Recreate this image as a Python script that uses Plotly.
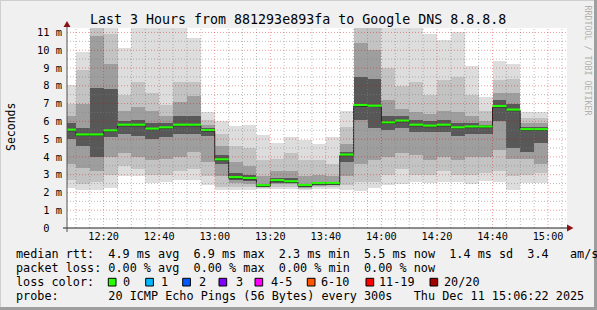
import plotly.graph_objects as go
from datetime import datetime, timedelta

# ---------------- data ----------------
DAY = "2025-12-11"
bar_end = ["12:10", "12:15", "12:20", "12:25", "12:30", "12:35", "12:40", "12:45", "12:50", "12:55",
           "13:00", "13:05", "13:10", "13:15", "13:20", "13:25", "13:30", "13:35", "13:40", "13:45",
           "13:50", "13:55", "14:00", "14:05", "14:10", "14:15", "14:20", "14:25", "14:30", "14:35",
           "14:40", "14:45", "14:50", "14:55", "15:00"]

# RTT distribution of the 20 pings per step (milliseconds)
ping_min = [2.25, 2.15, 2.15, 2.25, 2.95, 2.9, 2.55, 2.6, 2.7, 2.7,
            2.4, 2.15, 2.15, 2.15, 2.2, 2.2, 2.2, 2.15, 2.2, 2.2,
            2.15, 2.1, 2.25, 2.4, 2.5, 2.6, 2.55, 2.6, 2.6, 2.5,
            2.65, 2.6, 2.15, 2.55, 2.55]
ping_p10 = [2.7, 2.5, 2.6, 3.0, 3.5, 3.3, 3.0, 3.0, 3.2, 3.3,
            2.9, 2.3, 2.3, 2.3, 2.25, 2.3, 2.3, 2.2, 2.3, 2.3,
            2.4, 2.6, 2.6, 3.0, 3.3, 3.0, 3.0, 3.2, 3.0, 3.0,
            3.1, 3.2, 2.9, 3.0, 3.1]
ping_p25 = [3.6, 3.4, 3.2, 4.0, 4.2, 4.0, 3.8, 3.9, 4.0, 4.3,
            3.7, 2.9, 2.55, 2.5, 2.3, 2.45, 2.45, 2.27, 2.38, 2.4,
            2.9, 3.6, 3.8, 4.0, 4.2, 4.1, 3.8, 4.0, 3.8, 4.0,
            4.0, 4.4, 3.9, 3.9, 3.6]
ping_p40 = [5.0, 4.6, 4.0, 5.1, 5.3, 5.2, 5.0, 5.1, 5.3, 5.3,
            5.2, 3.6, 2.7, 2.65, 2.33, 2.55, 2.52, 2.32, 2.43, 2.44,
            3.7, 6.1, 5.6, 5.5, 5.6, 5.4, 5.4, 5.4, 5.2, 5.3,
            5.3, 6.0, 4.5, 4.3, 4.8]
median_rtt = [5.47, 5.2, 5.2, 5.43, 5.75, 5.75, 5.53, 5.6, 5.75, 5.75,
              5.45, 3.8, 2.8, 2.75, 2.35, 2.63, 2.57, 2.36, 2.47, 2.47,
              4.07, 6.86, 6.82, 5.88, 5.98, 5.75, 5.7, 5.75, 5.6, 5.65,
              5.65, 6.8, 6.6, 5.5, 5.5]
ping_p60 = [5.9, 5.6, 7.9, 7.8, 6.0, 6.1, 5.9, 5.9, 6.3, 6.3,
            5.6, 4.1, 3.1, 3.0, 2.5, 2.8, 2.8, 2.5, 2.6, 2.6,
            4.3, 8.5, 8.4, 6.3, 6.3, 6.1, 6.0, 6.1, 5.9, 5.9,
            5.8, 7.2, 7.0, 5.7, 5.7]
ping_p75 = [6.3, 7.0, 10.8, 9.2, 6.6, 6.8, 6.6, 6.3, 7.1, 7.4,
            5.8, 4.6, 3.7, 3.5, 2.9, 3.2, 3.2, 2.9, 3.0, 2.9,
            4.7, 10.4, 10.0, 7.2, 6.7, 6.5, 6.4, 6.6, 6.5, 6.3,
            6.0, 7.6, 7.6, 5.9, 5.9]
ping_p90 = [7.0, 8.9, 11.6, 10.9, 7.5, 8.2, 7.6, 6.9, 8.2, 8.2,
            6.1, 5.3, 4.6, 4.5, 3.8, 3.9, 4.2, 3.8, 3.8, 3.6,
            5.7, 11.4, 11.4, 9.0, 8.0, 8.2, 7.5, 8.3, 8.5, 7.5,
            6.6, 8.3, 8.4, 6.2, 6.2]
ping_max = [8.07, 9.9, 12.0, 11.8, 10.1, 11.6, 11.6, 11.6, 11.6, 10.66,
            6.5, 6.0, 5.75, 5.8, 5.25, 4.8, 5.1, 4.95, 4.75, 5.1,
            6.6, 12.0, 12.0, 11.3, 11.3, 11.3, 10.9, 10.6, 11.0, 9.1,
            7.35, 9.4, 9.2, 6.55, 6.5]

y_tick_vals = [0, 1, 2, 3, 4, 5, 6, 7, 8, 9, 10, 11]
y_tick_text = ["0\u00a0\u00a0", "1 m", "2 m", "3 m", "4 m", "5 m", "6 m", "7 m", "8 m", "9 m", "10 m", "11 m"]

title_text = "Last 3 Hours from 881293e893fa to Google DNS 8.8.8.8"
legend_lines = [
    "median rtt:  4.9 ms avg  6.9 ms max  2.3 ms min  5.5 ms now  1.4 ms sd  3.4   am/s",
    "packet loss: 0.00 % avg  0.00 % max  0.00 % min  0.00 % now",
    "loss color:",
    "probe:       20 ICMP Echo Pings (56 Bytes) every 300s   Thu Dec 11 15:06:22 2025",
]
loss_labels = ["0", "1", "2", "3", "4-5", "6-10", "11-19", "20/20"]
loss_colors = ["#26ff00", "#00b8ff", "#0059ff", "#7e00ff", "#ff00ff", "#ff5500", "#ff0000", "#a10000"]

# ---------------- layout constants ----------------
W, H = 597, 310
PL, PT, PW, PH = 67, 28, 500, 200     # plot area in pixels
Y_MAX = 11.25
T_START = datetime(2025, 12, 11, 12, 6, 49)
T_END = T_START + timedelta(hours=3)
STEP = timedelta(minutes=5)
MONO = "DejaVu Sans Mono"


def px(x):
    return (x - PL) / PW


def py(y):
    return (PT + PH - y) / PH


def t(s):
    return datetime.strptime(DAY + " " + s, "%Y-%m-%d %H:%M")


ends = [t(s) for s in bar_end]
centers = [e - STEP / 2 for e in ends]

fig = go.Figure()

# smoke bands (outer -> inner)
bands = [
    (ping_min, ping_max, "#dddddd"),
    (ping_p10, ping_p90, "#c3c3c3"),
    (ping_p25, ping_p75, "#9e9e9e"),
    (ping_p40, ping_p60, "#585858"),
]
for lo, hi, col in bands:
    fig.add_trace(go.Bar(
        x=centers, base=lo, y=[h - l for l, h in zip(lo, hi)],
        width=STEP.total_seconds() * 1000, marker=dict(color=col, line=dict(width=0)),
        hoverinfo="skip", showlegend=False))

# median: dark stepped line + green segments
sx, sy = [], []
for e, m in zip(ends, median_rtt):
    sx += [e - STEP, e]
    sy += [m, m]
fig.add_trace(go.Scatter(x=sx, y=sy, mode="lines", line=dict(color="#202020", width=1),
                         hoverinfo="skip", showlegend=False))
gx, gy = [], []
for e, m in zip(ends, median_rtt):
    gx += [e - STEP, e, None]
    gy += [m + 0.06, m + 0.06, None]
fig.add_trace(go.Scatter(x=gx, y=gy, mode="lines", line=dict(color="#26ff00", width=2.2),
                         hoverinfo="skip", showlegend=False))

# grid drawn on top (rrdtool style)
minor_x, minor_y, major_x, major_y = [], [], [], []
tt = datetime(2025, 12, 11, 12, 10)
while tt < T_END:
    tgt = (major_x, major_y) if tt.minute % 20 == 0 else (minor_x, minor_y)
    tgt[0].extend([tt, tt, None])
    tgt[1].extend([0, Y_MAX, None])
    tt += STEP
for k in range(1, 23):
    v = k * 0.5
    tgt = (major_x, major_y) if k % 2 == 0 else (minor_x, minor_y)
    tgt[0].extend([T_START, T_END, None])
    tgt[1].extend([v, v, None])
fig.add_trace(go.Scatter(x=minor_x, y=minor_y, mode="lines",
                         line=dict(color="rgba(130,130,130,0.55)", width=1, dash="1px,2px"),
                         hoverinfo="skip", showlegend=False))
fig.add_trace(go.Scatter(x=major_x, y=major_y, mode="lines",
                         line=dict(color="rgba(210,0,0,0.38)", width=1, dash="1px,2px"),
                         hoverinfo="skip", showlegend=False))

shapes = []
# outer frame shading
shapes.append(dict(type="line", xref="paper", yref="paper", x0=px(0), x1=px(W), y0=py(0.5), y1=py(0.5),
                   line=dict(color="#cfcfcf", width=1)))
shapes.append(dict(type="line", xref="paper", yref="paper", x0=px(0.5), x1=px(0.5), y0=py(0), y1=py(H),
                   line=dict(color="#cfcfcf", width=1)))
shapes.append(dict(type="line", xref="paper", yref="paper", x0=px(0), x1=px(W), y0=py(H - 1.5), y1=py(H - 1.5),
                   line=dict(color="#9e9e9e", width=3)))
shapes.append(dict(type="line", xref="paper", yref="paper", x0=px(W - 1.5), x1=px(W - 1.5), y0=py(0), y1=py(H),
                   line=dict(color="#9e9e9e", width=3)))
# axes
shapes.append(dict(type="line", xref="paper", yref="paper", x0=px(PL - 4), x1=px(PL + PW + 2),
                   y0=0, y1=0, line=dict(color="#202020", width=1)))
shapes.append(dict(type="line", xref="paper", yref="paper", x0=0, x1=0,
                   y0=py(PT + PH + 4), y1=py(PT - 2), line=dict(color="#505050", width=1)))
# arrows
shapes.append(dict(type="path", xref="paper", yref="paper",
                   path="M {} {} L {} {} L {} {} Z".format(px(PL - 3.5), py(PT - 1), px(PL + 3.5), py(PT - 1),
                                                            px(PL), py(PT - 7)),
                   fillcolor="#8a1212", line=dict(width=0)))
shapes.append(dict(type="path", xref="paper", yref="paper",
                   path="M {} {} L {} {} L {} {} Z".format(px(PL + PW), py(PT + PH - 3.5), px(PL + PW), py(PT + PH + 3.5),
                                                            px(PL + PW + 6.5), py(PT + PH)),
                   fillcolor="#8a1212", line=dict(width=0)))

annotations = []
annotations.append(dict(text=title_text, x=px(298), y=py(19), xref="paper", yref="paper",
                        showarrow=False, xanchor="center", yanchor="middle",
                        font=dict(family=MONO, size=13.3, color="#000")))
annotations.append(dict(text="Seconds", x=px(11), y=py(127), xref="paper", yref="paper",
                        showarrow=False, textangle=-90, xanchor="center", yanchor="middle",
                        font=dict(family=MONO, size=11.5, color="#000")))
annotations.append(dict(text="RRDTOOL / TOBI OETIKER", x=px(587.5), y=py(60), xref="paper", yref="paper",
                        showarrow=False, textangle=90, xanchor="center", yanchor="middle",
                        font=dict(family=MONO, size=8.3, color="#b0b0b0")))
line_y = [254, 268, 282, 296]
for txt, ly in zip(legend_lines, line_y):
    annotations.append(dict(text=txt.replace(" ", "\u00a0"), x=px(15.5), y=py(ly), xref="paper", yref="paper",
                            showarrow=False, xanchor="left", yanchor="middle", borderpad=0, borderwidth=0,
                            font=dict(family=MONO, size=11.8, color="#000")))
box_x = [108.3, 145.7, 182.7, 219, 255, 307.3, 366, 430]
lab_x = [122.6, 161.0, 198.6, 236.0, 271.0, 321.0, 379.3, 444.3]
for bx, lx, lab, col in zip(box_x, lab_x, loss_labels, loss_colors):
    shapes.append(dict(type="rect", xref="paper", yref="paper", x0=px(bx), x1=px(bx + 7.7),
                       y0=py(278.3), y1=py(286), fillcolor=col, line=dict(color="#000", width=1)))
    annotations.append(dict(text=lab, x=px(lx), y=py(282), xref="paper", yref="paper",
                            showarrow=False, xanchor="left", yanchor="middle", borderpad=0, borderwidth=0,
                            font=dict(family=MONO, size=11.8, color="#000")))

fig.update_layout(
    width=W, height=H,
    margin=dict(l=PL, r=W - PL - PW, t=PT, b=H - PT - PH, autoexpand=False),
    paper_bgcolor="#f0f0f0", plot_bgcolor="#ffffff",
    barmode="overlay", bargap=0,
    showlegend=False,
    shapes=shapes, annotations=annotations,
    xaxis=dict(type="date", range=[T_START, T_END], showgrid=False, zeroline=False, showline=False,
               tickmode="linear", tick0=DAY + " 12:00", dtick=20 * 60 * 1000, tickformat="%H:%M",
               ticks="", ticklabelstandoff=1, automargin=False,
               tickfont=dict(family=MONO, size=10.2, color="#000")),
    yaxis=dict(range=[0, Y_MAX], showgrid=False, zeroline=False, showline=False,
               tickmode="array", tickvals=y_tick_vals, ticktext=y_tick_text,
               ticks="", ticklabelstandoff=4, automargin=False,
               tickfont=dict(family=MONO, size=10.4, color="#000")),
)

fig.write_html("out.html")
